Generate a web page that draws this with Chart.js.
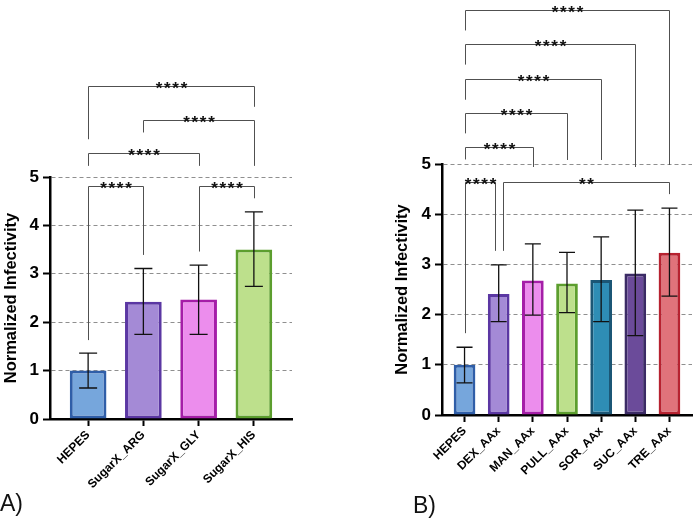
<!DOCTYPE html>
<html>
<head>
<meta charset="utf-8">
<script src="https://cdn.jsdelivr.net/npm/chart.js@4.4.1/dist/chart.umd.min.js"></script>
<style>
  body { margin: 0; background: #fff; width: 693px; height: 519px; position: relative; overflow: hidden; font-family: Arial, "Liberation Sans", sans-serif; }
  canvas { position: absolute; top: 0; }
  #graficoA { left: 0; }
  #graficoB { left: 390px; }
  .etiqueta { position: absolute; font-size: 23px; line-height: 1; color: #111; }
</style>
</head>
<body>
<canvas id="graficoA" width="300" height="519"></canvas>
<canvas id="graficoB" width="303" height="519"></canvas>
<div class="etiqueta" style="left:0;top:492px">A)</div>
<div class="etiqueta" style="left:413px;top:494px">B)</div>
<script>
// Panel A
const categoriasA = ["HEPES", "SugarX_ARG", "SugarX_GLY", "SugarX_HIS"];
const mediasA = [1.0, 2.42, 2.47, 3.50];
const errorAltoA = [1.36, 3.11, 3.18, 4.28];
const errorBajoA = [0.64, 1.75, 1.75, 2.74];
// comparaciones: [desde, hasta, altura, pata izq., pata der., texto]
const comparacionesA = [
    [0, 3, 6.88, 5.78, 6.45, "****"],
    [1, 3, 6.18, 5.92, 5.23, "****"],
    [0, 2, 5.50, 5.23, 5.23, "****"],
    [0, 1, 4.81, 1.63, 3.39, "****"],
    [2, 3, 4.81, 3.46, 4.56, "****"]
];

// Panel B
const categoriasB = ["HEPES", "DEX_AAx", "MAN_AAx", "PULL_AAx", "SOR_AAx", "SUC_AAx", "TRE_AAx"];
const mediasB = [1.0, 2.41, 2.68, 2.62, 2.69, 2.82, 3.23];
const errorAltoB = [1.35, 2.99, 3.41, 3.24, 3.55, 4.08, 4.12];
const errorBajoB = [0.64, 1.86, 1.99, 2.04, 1.86, 1.58, 2.37];
const comparacionesB = [
    [0, 6, 8.06, 7.66, 4.98, "****"],
    [0, 5, 7.40, 6.98, 4.94, "****"],
    [0, 4, 6.70, 6.28, 5.08, "****"],
    [0, 3, 6.02, 5.61, 5.08, "****"],
    [0, 2, 5.34, 5.09, 4.94, "****"],
    [0, 1, 4.64, 1.63, 3.27, "****"],
    [1, 6, 4.64, 3.27, 4.40, "**"]
];

const ticksY = [0, 1, 2, 3, 4, 5];

// colores
const rellenoA = ["#76a6dc", "#a48ad6", "#ec8ded", "#bde08c"];
const bordeA = ["#2f5ea8", "#5b37a3", "#a51ea8", "#5c9e2e"];
const rellenoB = ["#76a6dc", "#a48ad6", "#ec8ded", "#bde08c", "#2e8db5", "#6b4b9a", "#e0737b"];
const bordeB = ["#2f5ea8", "#5b37a3", "#a51ea8", "#5c9e2e", "#1b5675", "#3b2b65", "#b72230"];
// desplazamiento en px de las patas (para que no se pisen)
const desplB = [[0, 0], [0, 0], [0, 0], [0, 0], [0, 0], [0, -4], [4, 0]];

function barrasError(alto, bajo, tapa) {
    return {
        id: "barrasError",
        afterDatasetsDraw(chart) {
            const ctx = chart.ctx;
            const y = chart.scales.y;
            ctx.save();
            ctx.strokeStyle = "#111";
            ctx.lineWidth = 1.3;
            chart.getDatasetMeta(0).data.forEach((barra, i) => {
                const x = barra.x;
                const yA = y.getPixelForValue(alto[i]);
                const yB = y.getPixelForValue(bajo[i]);
                ctx.beginPath();
                ctx.moveTo(x, yA); ctx.lineTo(x, yB);
                ctx.moveTo(x - tapa / 2, yA); ctx.lineTo(x + tapa / 2, yA);
                ctx.moveTo(x - tapa / 2, yB); ctx.lineTo(x + tapa / 2, yB);
                ctx.stroke();
            });
            ctx.restore();
        }
    };
}

function corchetes(lista, despl) {
    return {
        id: "corchetes",
        afterDraw(chart) {
            const ctx = chart.ctx;
            const x = chart.scales.x, y = chart.scales.y;
            ctx.save();
            lista.forEach((c, i) => {
                const [d, h, alt, pi, pd, txt] = c;
                const off = despl ? despl[i] : [0, 0];
                const x1 = Math.round(x.getPixelForValue(d) + off[0]) + 0.5;
                const x2 = Math.round(x.getPixelForValue(h) + off[1]) + 0.5;
                const yl = Math.round(y.getPixelForValue(alt)) + 0.5;
                ctx.strokeStyle = "#505050";
                ctx.lineWidth = 1;
                ctx.beginPath();
                ctx.moveTo(x1, y.getPixelForValue(pi));
                ctx.lineTo(x1, yl);
                ctx.lineTo(x2, yl);
                ctx.lineTo(x2, y.getPixelForValue(pd));
                ctx.stroke();
                // asteriscos
                ctx.fillStyle = "#111";
                ctx.font = "bold 17px Arial";
                ctx.textAlign = "center";
                ctx.textBaseline = "alphabetic";
                const n = txt.length, paso = 8.3, xm = (x1 + x2) / 2;
                for (let k = 0; k < n; k++) {
                    ctx.fillText("*", xm + (k - (n - 1) / 2) * paso, yl + 7);
                }
            });
            ctx.restore();
        }
    };
}

function crearPanel(id, categorias, medias, alto, bajo, relleno, borde, lista, despl, p) {
    return new Chart(document.getElementById(id), {
        type: "bar",
        data: {
            datasets: [{
                data: medias.map((v, i) => ({ x: i, y: v })),
                backgroundColor: relleno,
                borderColor: borde,
                borderWidth: 3,
                borderSkipped: false,
                barPercentage: p.barra,
                categoryPercentage: 1
            }]
        },
        options: {
            responsive: false,
            animation: false,
            layout: { padding: { top: p.arriba, right: p.derecha, bottom: p.abajo, left: 0 } },
            plugins: { legend: { display: false }, tooltip: { enabled: false } },
            scales: {
                x: {
                    type: "linear",
                    offset: false,
                    min: -p.margen,
                    max: categorias.length - 1 + p.margen,
                    afterBuildTicks: s => { s.ticks = categorias.map((_, i) => ({ value: i })); },
                    afterFit: s => { s.height = 95; s.paddingLeft = 0; s.paddingRight = 0; },
                    ticks: {
                        callback: v => categorias[v],
                        minRotation: 45, maxRotation: 45, autoSkip: false,
                        color: "#000",
                        font: { family: "Arial", weight: "bold", size: 12 },
                        padding: 2
                    },
                    grid: { offset: false, drawOnChartArea: false, tickLength: 7, tickColor: "#000", tickWidth: 2 },
                    border: { color: "#000", width: 2.5 }
                },
                y: {
                    min: 0, max: 5,
                    afterBuildTicks: s => { s.ticks = ticksY.map(v => ({ value: v })); },
                    afterFit: s => { s.width = p.anchoY; },
                    ticks: { color: "#000", font: { family: "Arial", weight: "bold", size: 17 }, padding: 4 },
                    grid: { color: "#8f8f8f", lineWidth: 1, tickLength: 7, tickColor: "#000", tickWidth: 2, tickBorderDash: [] },
                    border: { color: "#000", width: 2.5, dash: [4, 3] },
                    title: {
                        display: true,
                        text: "Normalized Infectivity",
                        color: "#000",
                        font: { family: "Arial", weight: "bold", size: 16.5 },
                        padding: { top: p.titulo, bottom: 0 }
                    }
                }
            }
        },
        plugins: [barrasError(alto, bajo, p.tapa), corchetes(lista, despl)]
    });
}

crearPanel("graficoA", categoriasA, mediasA, errorAltoA, errorBajoA, rellenoA, bordeA, comparacionesA, null,
    { barra: 0.664, margen: 0.69, arriba: 177, abajo: 5, derecha: 8, anchoY: 50, titulo: 2, tapa: 18 });

crearPanel("graficoB", categoriasB, mediasB, errorAltoB, errorBajoB, rellenoB, bordeB, comparacionesB, desplB,
    { barra: 0.635, margen: 0.66, arriba: 164, abajo: 9, derecha: 1, anchoY: 52, titulo: 3, tapa: 16 });
</script>
</body>
</html>
